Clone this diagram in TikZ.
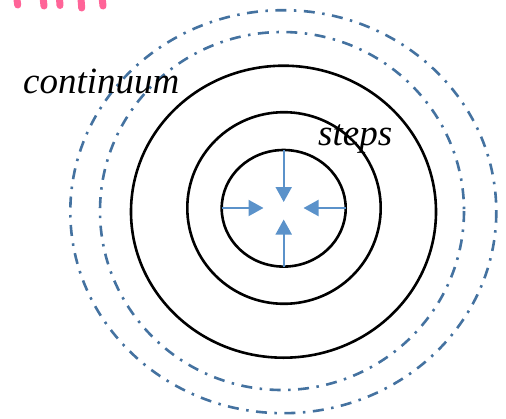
\documentclass[tikz,border=0pt]{standalone}
\usepackage{fontspec}
\setmainfont{Liberation Serif}
\usetikzlibrary{arrows.meta}
\definecolor{dashblue}{RGB}{68,114,160}
\definecolor{arrblue}{RGB}{91,146,202}
\definecolor{pinkmark}{RGB}{255,100,152}
\tikzset{
  ring/.style={draw=black,line width=2.6pt},
  dring/.style={draw=dashblue,line width=2.6pt,dash pattern=on 11pt off 7.5pt on 2.5pt off 7.5pt},
  inarrow/.style={draw=arrblue,line width=2pt,-{Triangle[width=16pt,length=15pt]}},
  pinkstroke/.style={draw=pinkmark,line width=7pt,line cap=round},
  lbl/.style={font=\fontsize{37}{40}\selectfont\itshape,inner sep=0pt}
}
\begin{document}
\begin{tikzpicture}[x=1pt,y=-1pt]
\useasboundingbox (0,0) rectangle (506,418);
% pink marks
\foreach \xa/\xb/\yb in {16/17.7/5, 42.5/44/6, 59/60/5.5, 80.5/81.7/8, 101.5/103/6}
  \draw[pinkstroke] (\xa,-8) -- (\xb,\yb);
% rings
\draw[dring] (283.3,211.7) ellipse [x radius=213, y radius=201.5];
\draw[dring] (282,211) ellipse [x radius=182, y radius=179];
\draw[ring] (283.5,211.7) ellipse [x radius=152.5, y radius=146];
\draw[ring] (284,208) ellipse [x radius=96.7, y radius=95.8];
\draw[ring] (283.7,208.3) ellipse [x radius=62, y radius=58.3];
% arrows
\coordinate (tS) at (283.7,150);
\coordinate (tE) at (283.7,202);
\coordinate (bS) at (283.7,266.5);
\coordinate (bE) at (283.7,219.5);
\coordinate (lS) at (221.7,208);
\coordinate (lE) at (263.5,208);
\coordinate (rS) at (345.7,208);
\coordinate (rE) at (303.5,208);
\draw[inarrow] (tS) -- (tE);
\draw[inarrow] (bS) -- (bE);
\draw[inarrow] (lS) -- (lE);
\draw[inarrow] (rS) -- (rE);
% labels
\node[lbl,anchor=base west] (cont) at (23,93) {continuum};
\node[lbl,anchor=base west] (steps) at (318,145) {steps};
\end{tikzpicture}
\end{document}
